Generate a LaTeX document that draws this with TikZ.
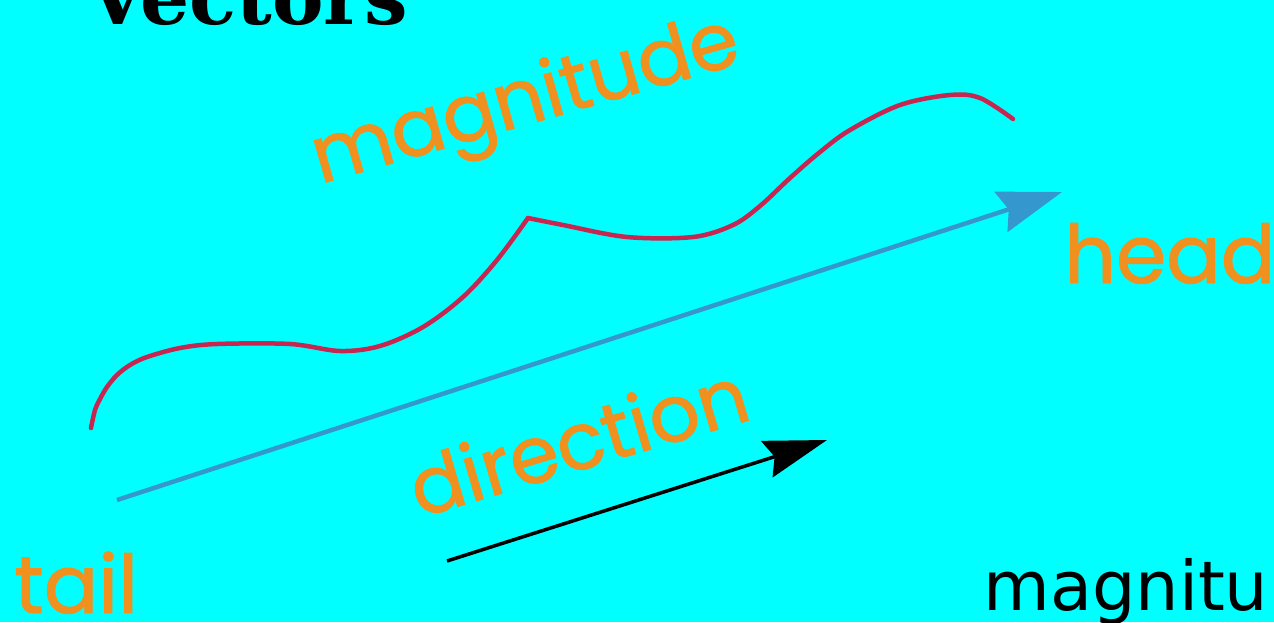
\documentclass[tikz,border=0pt]{standalone}
\usepackage{fontspec}
\usetikzlibrary{arrows.meta}
\newfontfamily\lblfont[FakeBold=1.2]{Poppins}
\newfontfamily\titlefont{DejaVu Serif}
\newfontfamily\plainfont{DejaVu Sans}
\definecolor{bgcyan}{RGB}{0,255,255}
\definecolor{lblorange}{RGB}{240,144,30}
\definecolor{vecblue}{RGB}{52,152,206}
\definecolor{pathred}{RGB}{198,38,80}

\begin{document}
\begin{tikzpicture}[x=0.02cm,y=-0.02cm,
  lbl/.style={text=lblorange,font=\lblfont\fontsize{46}{46}\selectfont,inner sep=0pt,anchor=base west},
  slantlbl/.style={lbl,font=\lblfont\fontsize{45}{45}\selectfont},
  vecline/.style={draw=vecblue,line width=0.09cm,-{Stealth[length=1.28cm,width=0.84cm,inset=0.16cm]}},
  dirline/.style={draw=black,line width=0.07cm,-{Stealth[length=1.26cm,width=0.76cm,inset=0.16cm]}},
  pathline/.style={draw=pathred,line width=0.09cm,line cap=round,line join=round}]
\fill[bgcyan] (0,0) rectangle (1274,622);
\clip (0,0) rectangle (1274,622);
% end points
\coordinate (tl) at (117,500);
\coordinate (hd) at (1062,192);
\coordinate (d0) at (447,561);
\coordinate (d1) at (827,440);
% wavy path from tail to head
\draw[pathline] plot[smooth,tension=0.55] coordinates {(91,428) (95,410) (100,399) (107,387) (117,375) (130,365) (147,357) (180,348) (217,344) (290,344) (340,351) (380,346) (423,327) (463,297) (497,260) (528,218)};
\draw[pathline] plot[smooth,tension=0.55] coordinates {(528,218) (563,225) (627,237) (693,237) (733,225) (760,206) (790,178) (820,152) (850,130) (900,105) (950,95) (980,98) (1013,119)};
\draw[vecline] (tl) -- (hd);
\draw[dirline] (d0) -- (d1);
% labels
\node[anchor=base west,inner sep=0pt,font=\titlefont\bfseries\fontsize{44}{44}\selectfont] (title) at (87,25) {Vectors};
\node[slantlbl,rotate=16] (mag) at (320,184) {magnitude};
\node[lbl] (head) at (1064,283) {head};
\node[lbl] (tail) at (14,613) {tail};
\node[slantlbl,rotate=16.5] (dir) at (419,518) {direction};
\node[anchor=base west,inner sep=0pt,font=\plainfont\fontsize{39}{39}\selectfont] (mag2) at (983,610) {magnitu};
\end{tikzpicture}
\end{document}
